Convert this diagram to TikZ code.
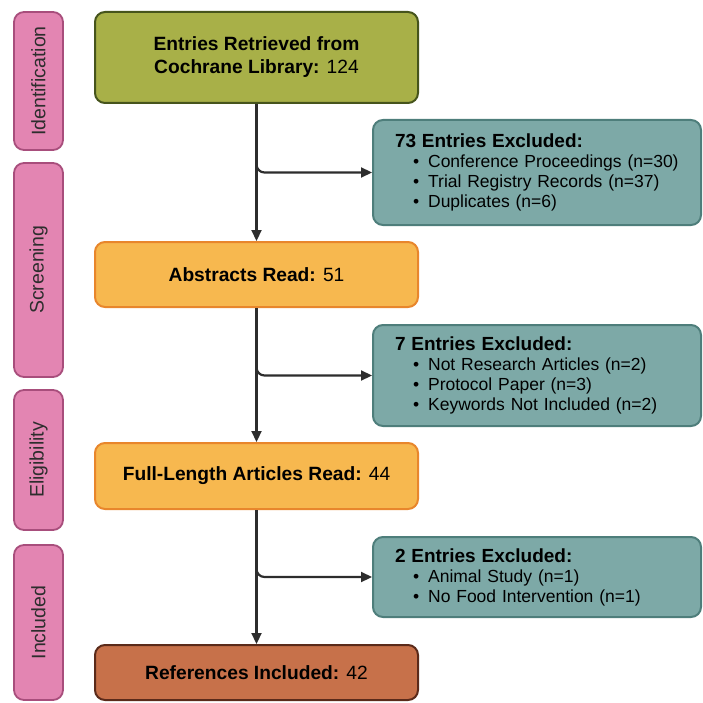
\documentclass[tikz,border=0pt]{standalone}
\usepackage{fontspec}
\setmainfont{Liberation Sans}
\usetikzlibrary{arrows.meta}
\definecolor{gfill}{RGB}{168,176,72}
\definecolor{gdraw}{RGB}{70,84,28}
\definecolor{ofill}{RGB}{247,184,79}
\definecolor{odraw}{RGB}{232,134,44}
\definecolor{bfill}{RGB}{199,113,74}
\definecolor{bdraw}{RGB}{90,42,26}
\definecolor{tfill}{RGB}{125,169,167}
\definecolor{tdraw}{RGB}{78,126,123}
\definecolor{pfill}{RGB}{227,133,178}
\definecolor{pdraw}{RGB}{168,78,124}
\definecolor{ink}{RGB}{45,45,45}
\tikzset{
  x=1pt, y=-1pt,
  mainbox/.style={rounded corners=10pt, line width=2pt, minimum width=323pt, align=center,
    font=\fontsize{19.2}{23}\selectfont, text=black, inner sep=0pt},
  exbox/.style={rounded corners=10pt, line width=2pt, fill=tfill, draw=tdraw, minimum width=328pt,
    text width=284pt, inner xsep=22pt, inner ysep=0pt, align=left, text=black,
    font=\fontsize{17.5}{20}\selectfont},
  stage/.style={rounded corners=10pt, line width=1.8pt, fill=pfill, draw=pdraw, rotate=90,
    minimum height=49pt, inner sep=0pt, text=ink, font=\fontsize{19.5}{20}\selectfont},
  link/.style={draw=ink, line width=2.2pt, -{Triangle[length=11pt,width=10pt]}},
}
\newcommand{\itm}[1]{\\\hspace*{18pt}\textbullet\hspace{9pt}#1}
\newcommand{\ttl}[1]{{\fontsize{19}{20}\selectfont\bfseries #1}}
\begin{document}
\begin{tikzpicture}
\useasboundingbox (0,0) rectangle (702,703);
% stage labels
\node[stage, minimum width=138pt] (s1) at (38.5,81) {Identification};
\node[stage, minimum width=214pt] (s2) at (38.5,270) {Screening};
\node[stage, minimum width=140pt] (s3) at (38.5,460) {Eligibility};
\node[stage, minimum width=155pt] (s4) at (38.5,622.5) {Included};
% main boxes
\node[mainbox, fill=gfill, draw=gdraw, minimum height=91pt] (b1) at (256.5,57.5)
  {\textbf{Entries Retrieved from}\\\textbf{Cochrane Library:} 124};
\node[mainbox, fill=ofill, draw=odraw, minimum height=65pt] (b2) at (256.5,274.5)
  {\textbf{Abstracts Read:} 51};
\node[mainbox, fill=ofill, draw=odraw, minimum height=66pt] (b3) at (256.5,476)
  {\textbf{Full-Length Articles Read:} 44};
\node[mainbox, fill=bfill, draw=bdraw, minimum height=55pt] (b4) at (256.5,672.5)
  {\textbf{References Included:} 42};
% exclusion boxes
\node[exbox, minimum height=105pt] (e1) at (537,172.5)
  {\ttl{73 Entries Excluded:}\itm{Conference Proceedings (n=30)}\itm{Trial Registry Records (n=37)}\itm{Duplicates (n=6)}};
\node[exbox, minimum height=101pt] (e2) at (537,375.5)
  {\ttl{7 Entries Excluded:}\itm{Not Research Articles (n=2)}\itm{Protocol Paper (n=3)}\itm{Keywords Not Included (n=2)}};
\node[exbox, minimum height=80pt] (e3) at (537,577)
  {\ttl{2 Entries Excluded:}\itm{Animal Study (n=1)}\itm{No Food Intervention (n=1)}};
% connectors
\draw[link] (b1.south) -- (b2.north);
\draw[link] (b2.south) -- (b3.north);
\draw[link] (b3.south) -- (b4.north);
\draw[link, rounded corners=8pt] (b1.south) |- (e1.west);
\draw[link, rounded corners=8pt] (b2.south) |- (e2.west);
\draw[link, rounded corners=8pt] (b3.south) |- (e3.west);
\end{tikzpicture}
\end{document}
